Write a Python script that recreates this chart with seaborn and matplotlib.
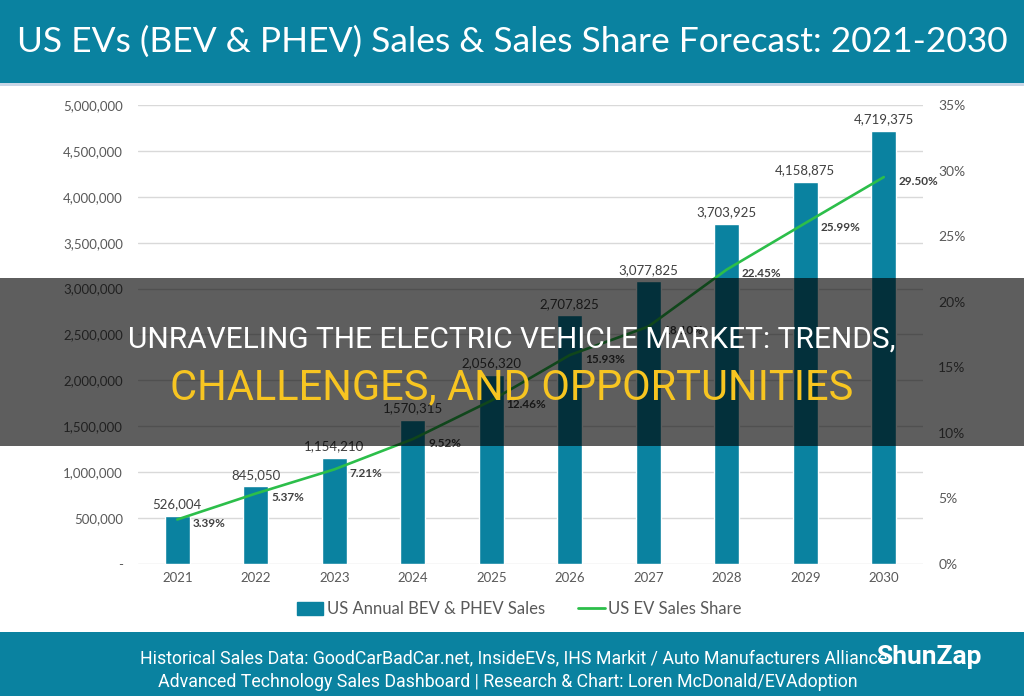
import matplotlib
matplotlib.use("Agg")
import matplotlib.pyplot as plt
from matplotlib.patches import Rectangle, Patch
from matplotlib.lines import Line2D
from matplotlib.ticker import FuncFormatter
import numpy as np
import pandas as pd
import seaborn as sns

# ---- data ----
years = ["2021", "2022", "2023", "2024", "2025", "2026", "2027", "2028", "2029", "2030"]
sales = [526004, 845050, 1154210, 1570315, 2056320, 2707825, 3077825, 3703925, 4158875, 4719375]
share = [3.39, 5.37, 7.21, 9.52, 12.46, 15.93, 18.10, 22.45, 25.99, 29.50]

title = "US EVs (BEV & PHEV) Sales & Sales Share Forecast: 2021-2030"
bar_name = "US Annual BEV & PHEV Sales"
line_name = "US EV Sales Share"
banner_1 = "UNRAVELING THE ELECTRIC VEHICLE MARKET: TRENDS,"
banner_2 = "CHALLENGES, AND OPPORTUNITIES"
footer_1 = "Historical Sales Data: GoodCarBadCar.net, InsideEVs, IHS Markit / Auto Manufacturers Alliance"
footer_2 = "Advanced Technology Sales Dashboard | Research & Chart: Loren McDonald/EVAdoption"

df = pd.DataFrame({"year": years, "sales": sales, "share": share})
df["pos"] = np.arange(len(df))

teal = "#0A82A0"
green = "#2CBE4A"
gray = "#595959"

sns.set_theme(style="white")
plt.rcParams["font.family"] = ["Lato", "DejaVu Sans"]
narrow = ["Roboto", "DejaVu Sans"]

fig = plt.figure(figsize=(10.24, 6.96), dpi=100)
ax = fig.add_axes([0.1348, 0.1897, 0.7666, 0.6595])

# bars
sns.barplot(data=df, x="year", y="sales", color=teal, width=0.315, saturation=1, ax=ax)
ax.set_xlim(-0.5, 9.5)
ax.set_ylim(0, 5000000)
ax.set_yticks(np.arange(0, 5000001, 500000))
ax.yaxis.set_major_formatter(FuncFormatter(lambda v, _: "-" if v == 0 else f"{v:,.0f}"))
ax.grid(axis="y", color="#d9d9d9", linewidth=1)
ax.set_axisbelow(True)
ax.set_xlabel("")
ax.set_ylabel("")
ax.tick_params(axis="y", labelsize=9.5, labelcolor=gray, length=0, pad=11)
ax.tick_params(axis="x", labelsize=9.5, labelcolor=gray, length=0, pad=6)
sns.despine(ax=ax, left=True, bottom=True)
ax.bar_label(ax.containers[0], labels=[f"{v:,}" for v in sales],
             padding=4, fontsize=9.5, color="#404040")

# share line on right axis
ax2 = ax.twinx()
sns.lineplot(data=df, x="pos", y="share", color=green, linewidth=1.9, ax=ax2)
ax2.set_ylim(0, 35)
ax2.set_yticks(np.arange(0, 36, 5))
ax2.yaxis.set_major_formatter(FuncFormatter(lambda v, _: f"{v:.0f}%"))
ax2.tick_params(axis="y", labelsize=10, labelcolor=gray, length=0, pad=11)
ax2.set_xlabel("")
ax2.set_ylabel("")
ax2.grid(False)
sns.despine(ax=ax2, left=True, bottom=True, right=True)
for p, s in zip(df["pos"], df["share"]):
    ax2.annotate(f"{s:.2f}%", (p, s), xytext=(11, -3), textcoords="offset points",
                 ha="left", va="center", fontsize=8.5, fontweight="bold", color="#404040")

# legend
handles = [Patch(color=teal), Line2D([0], [0], color=green, linewidth=2)]
leg = fig.legend(handles, [bar_name, line_name], loc="center",
                 bbox_to_anchor=(0.507, 1 - 609 / 696), ncol=2, frameon=False,
                 fontsize=12, handlelength=1.6, handleheight=0.8,
                 handletextpad=0.2, columnspacing=2.0)
for t in leg.get_texts():
    t.set_color(gray)

# title banner
fig.patches.append(Rectangle((0, 1 - 83 / 696), 1, 83 / 696, transform=fig.transFigure,
                             facecolor=teal, edgecolor="none", zorder=1))
fig.patches.append(Rectangle((0, 1 - 86 / 696), 1, 3 / 696, transform=fig.transFigure,
                             facecolor="#c9d6e6", edgecolor="none", zorder=1))
fig.text(0.5, 1 - 42 / 696, title, ha="center", va="center", color="white",
         fontsize=25.5, zorder=2)

# footer banner
fig.patches.append(Rectangle((0, 0), 1, 64 / 696, transform=fig.transFigure,
                             facecolor=teal, edgecolor="none", zorder=1))
fig.text(514 / 1024, 1 - 658 / 696, footer_1, ha="center", va="center", color="white",
         fontsize=12.8, family=narrow, zorder=2)
fig.text(508 / 1024, 1 - 682 / 696, footer_2, ha="center", va="center", color="white",
         fontsize=12.8, family=narrow, zorder=2)
fig.text(929 / 1024, 1 - 657 / 696, "ShunZap", ha="center", va="center", color="white",
         fontsize=19, fontweight="bold", family=narrow, zorder=3)

# dark overlay band with headline
fig.patches.append(Rectangle((0, 1 - 446 / 696), 1, 168 / 696, transform=fig.transFigure,
                             facecolor="black", alpha=0.63, edgecolor="none", zorder=10))
fig.text(0.5, 1 - 340 / 696, banner_1, ha="center", va="center", color="white",
         fontsize=21.5, family=narrow, zorder=11)
fig.text(0.5, 1 - 388 / 696, banner_2, ha="center", va="center", color="#F7C521",
         fontsize=30, family=narrow, zorder=11)

fig.savefig("out.png", dpi=100)
plt.close(fig)
